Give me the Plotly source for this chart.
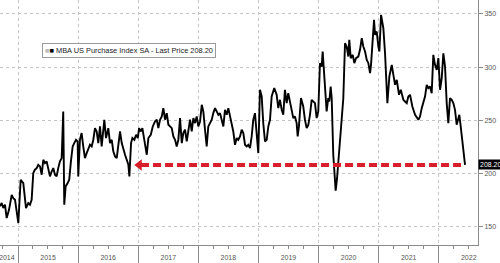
import plotly.graph_objects as go
from datetime import datetime

# Decimal-year positions and index values
t = [
    2014.700, 2014.728, 2014.755, 2014.783, 2014.811, 2014.850, 2014.895, 2014.921, 2014.950, 2014.978,
    2015.005, 2015.044, 2015.066, 2015.088, 2015.133, 2015.171, 2015.199, 2015.227, 2015.254, 2015.282,
    2015.311, 2015.337, 2015.366, 2015.394, 2015.421, 2015.449, 2015.477, 2015.504, 2015.532, 2015.560,
    2015.587, 2015.615, 2015.643, 2015.670, 2015.698, 2015.727, 2015.753, 2015.770, 2015.793, 2015.827,
    2015.853, 2015.881, 2015.910, 2015.936, 2015.965, 2015.993,
    2016.003, 2016.031, 2016.059, 2016.086, 2016.114, 2016.143, 2016.169, 2016.198, 2016.226, 2016.253,
    2016.281, 2016.309, 2016.336, 2016.364, 2016.392, 2016.419, 2016.436, 2016.464, 2016.502, 2016.530,
    2016.559, 2016.585, 2016.614, 2016.642, 2016.669, 2016.697, 2016.725, 2016.752, 2016.780, 2016.808,
    2016.835, 2016.852, 2016.880, 2016.902, 2016.935, 2016.963, 2016.992, 2017.013, 2017.041, 2017.068,
    2017.096, 2017.124, 2017.141, 2017.168, 2017.208, 2017.241, 2017.279,
    2017.308, 2017.334, 2017.362, 2017.391, 2017.417, 2017.446, 2017.474, 2017.501, 2017.529, 2017.557,
    2017.584, 2017.612, 2017.640, 2017.667, 2017.695, 2017.724, 2017.750, 2017.778, 2017.807, 2017.833,
    2017.862, 2017.890, 2017.917, 2017.945, 2017.973, 2018.000, 2018.028, 2018.057, 2018.083, 2018.111,
    2018.139, 2018.166, 2018.194, 2018.223, 2018.249, 2018.278, 2018.306, 2018.333, 2018.361, 2018.389,
    2018.416,
    2018.444, 2018.472, 2018.499, 2018.527, 2018.556, 2018.582, 2018.610, 2018.639, 2018.665, 2018.694,
    2018.722, 2018.749, 2018.777, 2018.805, 2018.832, 2018.860, 2018.888, 2018.915, 2018.943, 2018.971,
    2018.998, 2019.026, 2019.055, 2019.081, 2019.110, 2019.138, 2019.165, 2019.193, 2019.221, 2019.264,
    2019.304, 2019.331, 2019.359, 2019.388, 2019.414, 2019.442, 2019.471, 2019.497, 2019.526, 2019.554,
    2019.581, 2019.609, 2019.637, 2019.654, 2019.675, 2019.709, 2019.747,
    2019.775, 2019.804, 2019.831, 2019.859, 2019.887, 2019.914, 2019.942, 2019.970, 2019.997, 2020.025,
    2020.053, 2020.070, 2020.091, 2020.108, 2020.136, 2020.163, 2020.180, 2020.203, 2020.220, 2020.246,
    2020.266, 2020.286, 2020.308, 2020.330, 2020.358, 2020.386, 2020.413, 2020.441, 2020.469, 2020.496,
    2020.512, 2020.536, 2020.569, 2020.596, 2020.624, 2020.662, 2020.690, 2020.719, 2020.745, 2020.774,
    2020.802, 2020.829, 2020.857, 2020.873, 2020.902, 2020.923, 2020.940, 2020.968, 2020.995,
    2021.012, 2021.040, 2021.078, 2021.106, 2021.145, 2021.178, 2021.218, 2021.245, 2021.273, 2021.301,
    2021.339, 2021.368, 2021.411, 2021.439, 2021.467, 2021.494, 2021.522, 2021.561, 2021.606, 2021.661,
    2021.689, 2021.717, 2021.744, 2021.772, 2021.800, 2021.827, 2021.855, 2021.883, 2021.910, 2021.938,
    2021.967, 2021.994, 2022.022, 2022.050, 2022.077, 2022.105, 2022.133, 2022.160, 2022.188, 2022.216,
    2022.243, 2022.271, 2022.299, 2022.343, 2022.366, 2022.383, 2022.410, 2022.427, 2022.438,
]

v = [
    169.3, 172.4, 167.7, 170.8, 158.3, 166.0, 180.0, 177.0, 175.5, 166.0,
    153.6, 194.3, 192.7, 191.0, 167.7, 172.4, 170.8, 175.5, 200.5, 203.7,
    205.2, 208.3, 206.8, 199.0, 213.0, 209.9, 211.5, 203.7, 197.4, 202.0,
    205.2, 199.0, 197.4, 205.2, 211.5, 214.6, 258.4, 170.8, 188.0, 191.1,
    194.3, 211.5, 225.5, 228.7, 231.8, 230.2,
    197.4, 231.8, 238.1, 225.6, 214.6, 219.3, 224.0, 227.1, 225.6, 231.8,
    242.7, 239.6, 228.7, 244.3, 225.6, 241.2, 250.6, 233.4, 242.7, 228.7,
    231.8, 220.9, 216.2, 214.6, 228.7, 239.6, 228.7, 222.4, 217.7, 213.0,
    208.3, 197.4, 228.7, 233.4, 231.8, 236.5, 233.4, 242.7, 239.6, 242.7,
    233.4, 227.1, 217.7, 233.4, 236.5, 244.3, 249.0,
    250.6, 242.7, 250.6, 253.7, 261.5, 250.6, 256.8, 245.9, 244.3, 242.7,
    234.9, 231.8, 225.5, 231.8, 252.1, 228.7, 238.1, 241.2, 230.2, 241.2,
    250.6, 239.6, 252.1, 247.4, 253.7, 244.3, 249.0, 264.6, 258.4, 241.2,
    225.5, 244.3, 247.4, 250.6, 256.8, 261.5, 258.4, 255.2, 256.8, 250.6,
    244.3,
    260.0, 255.3, 261.5, 253.7, 244.3, 239.6, 227.1, 233.4, 231.8, 234.9,
    241.2, 238.1, 227.1, 225.6, 227.1, 224.0, 234.9, 250.6, 256.8, 238.1,
    219.3, 278.7, 272.5, 247.4, 230.2, 231.8, 244.3, 250.6, 272.5, 280.3,
    274.0, 261.5, 269.3, 260.0, 255.3, 278.7, 266.2, 275.6, 267.8, 260.0,
    252.1, 253.7, 247.4, 234.9, 244.3, 270.9, 263.1,
    250.5, 242.7, 245.8, 255.2, 269.3, 267.7, 266.2, 252.1, 258.4, 303.7,
    300.5, 314.6, 295.9, 277.1, 258.4, 270.8, 267.7, 281.8, 270.8, 217.7,
    195.0, 184.0, 195.0, 210.0, 227.0, 249.0, 270.8, 322.4, 319.3, 309.9,
    325.6, 308.4, 311.5, 303.7, 308.4, 309.9, 316.2, 327.1, 319.3, 314.6,
    306.8, 303.7, 294.3, 302.1, 322.4, 344.3, 330.3, 333.4, 319.3,
    314.6, 349.0, 336.5, 313.0, 266.2, 291.2, 302.1, 292.7, 283.4, 288.1,
    274.0, 278.7, 269.3, 267.7, 266.2, 272.4, 274.0, 263.1, 255.2, 250.5,
    253.7, 261.5, 267.7, 272.4, 283.4, 280.2, 281.8, 275.5, 311.5, 302.1,
    297.4, 308.4, 278.7, 289.6, 313.0, 300.5, 266.2, 247.4, 270.9, 269.3,
    266.2, 259.9, 245.9, 255.2, 244.3, 236.5, 224.0, 213.0, 208.2,
]

last_price = 208.20
arrow_tip = 2016.946        # where the red arrow points (decimal year)
x_range = [2014.700, 2022.654]
first_year_label = "2014"
first_year_pos = 2014.818   # centre of the visible part of 2014
y_ticks = [150, 200, 250, 300, 350]
y_range = [133, 363]
legend_text = "MBA US Purchase Index SA - Last Price 208.20"


def to_date(y):
    yr = int(y)
    s = datetime(yr, 1, 1)
    e = datetime(yr + 1, 1, 1)
    return s + (y - yr) * (e - s)


dates = [to_date(x) for x in t]
RED = "#d81e2a"
GRID = "#c4c4c4"
AX = "#8a8a8a"
TXT = "#555555"
FONT = "Liberation Sans, Arial, sans-serif"

fig = go.Figure()
fig.add_trace(go.Scatter(x=dates, y=v, mode="lines",
                         line=dict(color="black", width=1.9), hoverinfo="skip"))
fig.add_trace(go.Scatter(x=[to_date(arrow_tip + 0.1), dates[-1]], y=[last_price, last_price],
                         mode="lines", line=dict(color=RED, width=4, dash="8px,4px"),
                         hoverinfo="skip"))
fig.add_trace(go.Scatter(x=[to_date(arrow_tip + 0.07)], y=[last_price], mode="markers",
                         marker=dict(symbol="triangle-left", size=10, color=RED),
                         hoverinfo="skip"))
# invisible trace to carry the year-label axis
fig.add_trace(go.Scatter(x=[dates[0]], y=[v[0]], xaxis="x2", mode="markers",
                         marker=dict(opacity=0), hoverinfo="skip"))

fig.update_layout(
    width=500, height=263,
    margin=dict(l=0, r=22, t=0, b=18),
    plot_bgcolor="white", paper_bgcolor="white",
    showlegend=False,
    font=dict(family=FONT, size=7, color=TXT),
    xaxis=dict(
        type="date", range=[to_date(x_range[0]), to_date(x_range[1])],
        tickmode="linear", tick0="2015-01-01", dtick="M12",
        ticks="outside", ticklen=18, tickcolor=AX, tickwidth=1,
        showticklabels=False,
        showgrid=True, gridcolor=GRID, griddash="dot", gridwidth=1,
        showline=True, linecolor=AX, linewidth=1, zeroline=False,
        minor=dict(dtick="M3", tick0="2015-01-01", ticks="outside", ticklen=3,
                   tickcolor=AX, showgrid=False),
    ),
    xaxis2=dict(
        type="date", overlaying="x", anchor="y", side="bottom",
        range=[to_date(x_range[0]), to_date(x_range[1])],
        tickmode="linear", tick0="2014-01-01", dtick="M12",
        ticklabelmode="period", tickformat="%Y",
        ticks="outside", ticklen=6, tickcolor="rgba(0,0,0,0)",
        showgrid=False, showline=False, zeroline=False,
        tickfont=dict(size=7, color=TXT, family=FONT),
    ),
    yaxis=dict(
        range=y_range, side="right", tickmode="array", tickvals=y_ticks,
        ticks="outside", ticklen=4, tickcolor=AX,
        showline=True, linecolor=AX, linewidth=1,
        showgrid=True, gridcolor=GRID, griddash="dot", zeroline=False,
        tickfont=dict(size=7, color=TXT, family=FONT),
    ),
)

fig.add_annotation(
    xref="x", yref="paper", x=to_date(first_year_pos), y=0, yanchor="top", yshift=-7,
    text=first_year_label, showarrow=False, font=dict(size=7, color=TXT, family=FONT),
)
fig.add_annotation(
    xref="paper", yref="paper", x=0.088, y=0.792, xanchor="left", yanchor="middle",
    text="<span style='color:#bbbbbb'>■</span><span style='color:#000'>■</span> " + legend_text,
    showarrow=False, font=dict(size=7.4, color="#222", family=FONT),
    bgcolor="white", bordercolor="#9a9a9a", borderwidth=1, borderpad=2,
)
fig.add_annotation(
    xref="paper", yref="y", x=1.0, y=last_price, xanchor="left", yanchor="middle",
    text="208.20", showarrow=False, font=dict(size=7, color="white", family=FONT),
    bgcolor="black", borderpad=1,
)

fig.write_html("out.html")
